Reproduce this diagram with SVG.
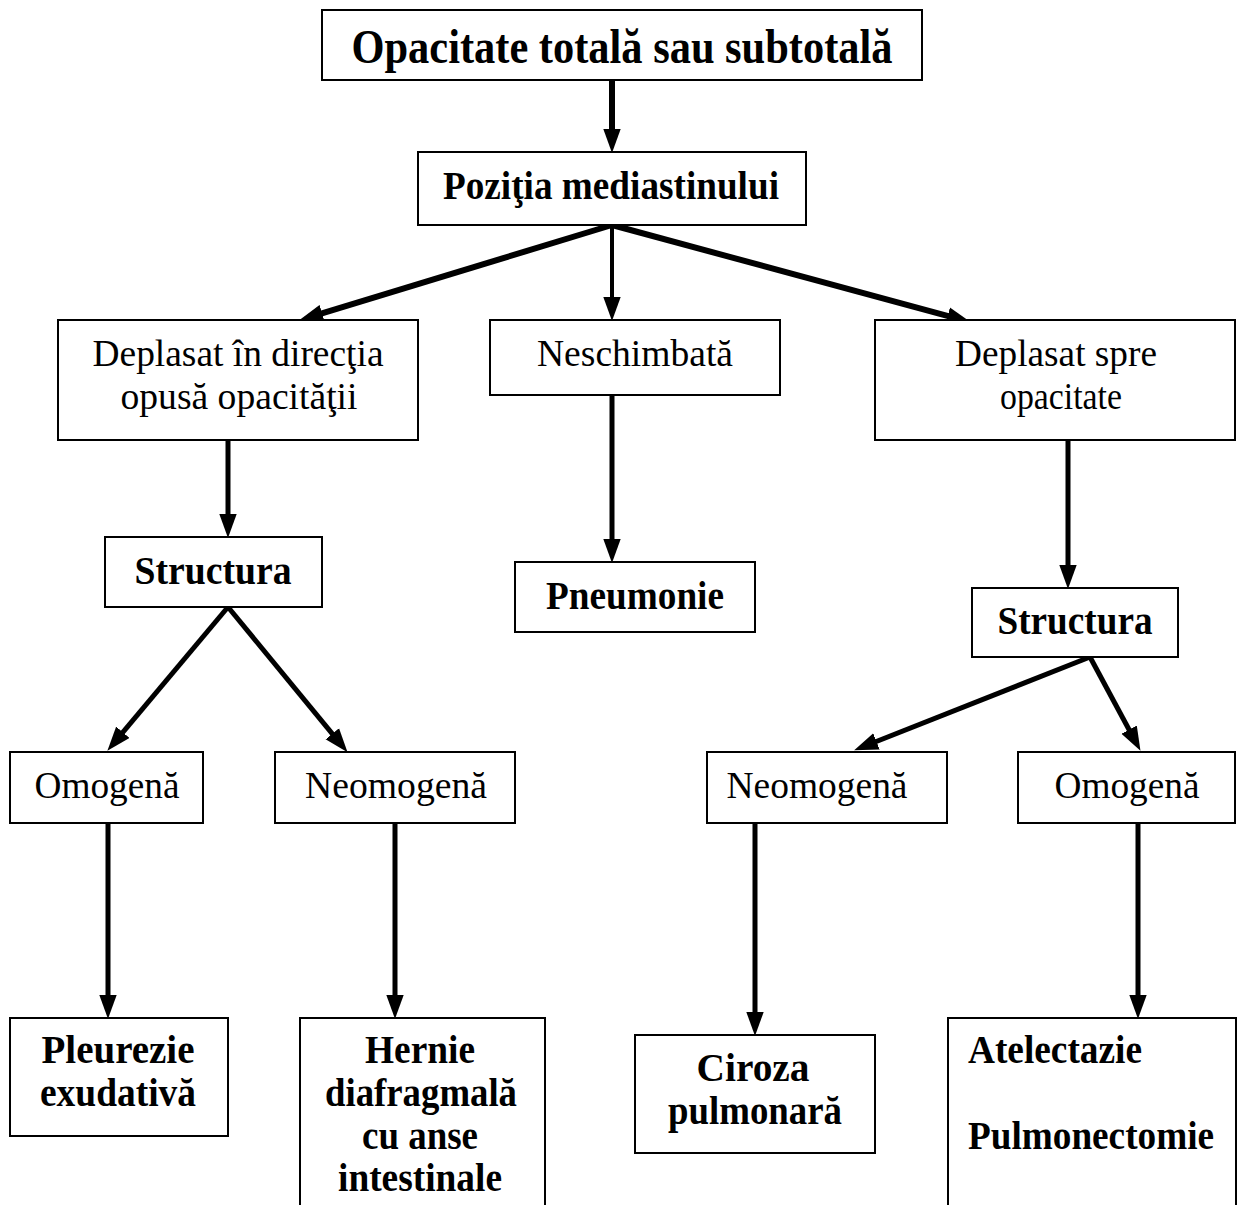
<svg xmlns="http://www.w3.org/2000/svg" width="1238" height="1205" viewBox="0 0 1238 1205">
<style>
.box{fill:#fff;stroke:#000;stroke-width:2}
.t{font-family:"Liberation Serif","Times New Roman",serif;font-size:38px;fill:#000;text-anchor:middle}
.b{font-weight:bold;font-size:41px}
.c{stroke:#000;stroke-width:5;fill:none;marker-end:url(#ah)}
</style>
<defs>
<marker id="ah" markerUnits="userSpaceOnUse" markerWidth="24" markerHeight="18" refX="12" refY="8" orient="auto" viewBox="0 0 22 16">
<path d="M0,0 L22,8 L0,16 z" fill="#000"/>
</marker>
</defs>
<rect width="1238" height="1205" fill="#fff"/>
<g id="connectors">
<line class="c" x1="612" y1="80" x2="612" y2="142" style="stroke-width:6"/>
<line class="c" x1="612" y1="225" x2="309.6" y2="317.1" style="stroke-width:6"/>
<line class="c" x1="612" y1="225" x2="612" y2="310" style="stroke-width:4"/>
<line class="c" x1="612" y1="225" x2="960.3" y2="319.4" style="stroke-width:6"/>
<line class="c" x1="228" y1="440" x2="228" y2="527"/>
<line class="c" x1="612" y1="395" x2="612" y2="552"/>
<line class="c" x1="1068" y1="440" x2="1068" y2="578"/>
<line class="c" x1="228" y1="607" x2="114.4" y2="742.3"/>
<line class="c" x1="228" y1="607" x2="340.6" y2="743.9"/>
<line class="c" x1="1090" y1="657" x2="864.3" y2="746.3"/>
<line class="c" x1="1090" y1="657" x2="1135.3" y2="741.2"/>
<line class="c" x1="108" y1="823" x2="108" y2="1008"/>
<line class="c" x1="395" y1="823" x2="395" y2="1008"/>
<line class="c" x1="755" y1="823" x2="755" y2="1025"/>
<line class="c" x1="1138" y1="823" x2="1138" y2="1008"/>
</g>
<g id="n-top">
<rect class="box" x="322" y="10" width="600" height="70"/>
<text class="t b" x="622" y="63" style="font-size:48px" textLength="541" lengthAdjust="spacingAndGlyphs">Opacitate totală sau subtotală</text>
</g>
<g id="n-pozitia">
<rect class="box" x="418" y="152" width="388" height="73"/>
<text class="t b" x="611" y="199" textLength="336" lengthAdjust="spacingAndGlyphs">Poziţia mediastinului</text>
</g>
<g id="n-deplasat-opus">
<rect class="box" x="58" y="320" width="360" height="120"/>
<text class="t" x="238" y="366" textLength="291" lengthAdjust="spacingAndGlyphs">Deplasat în direcţia</text>
<text class="t" x="239" y="409" textLength="237" lengthAdjust="spacingAndGlyphs">opusă opacităţii</text>
</g>
<g id="n-neschimbata">
<rect class="box" x="490" y="320" width="290" height="75"/>
<text class="t" x="635" y="366" textLength="196" lengthAdjust="spacingAndGlyphs">Neschimbată</text>
</g>
<g id="n-deplasat-spre">
<rect class="box" x="875" y="320" width="360" height="120"/>
<text class="t" x="1056" y="366" textLength="202" lengthAdjust="spacingAndGlyphs">Deplasat spre</text>
<text class="t" x="1061" y="409" textLength="122" lengthAdjust="spacingAndGlyphs">opacitate</text>
</g>
<g id="n-structura-l">
<rect class="box" x="105" y="537" width="217" height="70"/>
<text class="t b" x="213" y="584" textLength="157" lengthAdjust="spacingAndGlyphs">Structura</text>
</g>
<g id="n-pneumonie">
<rect class="box" x="515" y="562" width="240" height="70"/>
<text class="t b" x="635" y="609" textLength="178" lengthAdjust="spacingAndGlyphs">Pneumonie</text>
</g>
<g id="n-structura-r">
<rect class="box" x="972" y="588" width="206" height="69"/>
<text class="t b" x="1075" y="634" textLength="155" lengthAdjust="spacingAndGlyphs">Structura</text>
</g>
<g id="n-omogena-l">
<rect class="box" x="10" y="752" width="193" height="71"/>
<text class="t" x="107" y="798" textLength="145" lengthAdjust="spacingAndGlyphs">Omogenă</text>
</g>
<g id="n-neomogena-l">
<rect class="box" x="275" y="752" width="240" height="71"/>
<text class="t" x="396" y="798" textLength="182" lengthAdjust="spacingAndGlyphs">Neomogenă</text>
</g>
<g id="n-neomogena-r">
<rect class="box" x="707" y="752" width="240" height="71"/>
<text class="t" x="817" y="798" textLength="181" lengthAdjust="spacingAndGlyphs">Neomogenă</text>
</g>
<g id="n-omogena-r">
<rect class="box" x="1018" y="752" width="217" height="71"/>
<text class="t" x="1127" y="798" textLength="145" lengthAdjust="spacingAndGlyphs">Omogenă</text>
</g>
<g id="n-pleurezie">
<rect class="box" x="10" y="1018" width="218" height="118"/>
<text class="t b" x="118" y="1063" textLength="153" lengthAdjust="spacingAndGlyphs">Pleurezie</text>
<text class="t b" x="118" y="1106" textLength="156" lengthAdjust="spacingAndGlyphs">exudativă</text>
</g>
<g id="n-hernie">
<rect class="box" x="300" y="1018" width="245" height="195"/>
<text class="t b" x="420" y="1063" textLength="110" lengthAdjust="spacingAndGlyphs">Hernie</text>
<text class="t b" x="421" y="1106" textLength="192" lengthAdjust="spacingAndGlyphs">diafragmală</text>
<text class="t b" x="420" y="1149" textLength="116" lengthAdjust="spacingAndGlyphs">cu anse</text>
<text class="t b" x="420" y="1191" textLength="164" lengthAdjust="spacingAndGlyphs">intestinale</text>
</g>
<g id="n-ciroza">
<rect class="box" x="635" y="1035" width="240" height="118"/>
<text class="t b" x="753" y="1081" textLength="113" lengthAdjust="spacingAndGlyphs">Ciroza</text>
<text class="t b" x="755" y="1124" textLength="174" lengthAdjust="spacingAndGlyphs">pulmonară</text>
</g>
<g id="n-atelectazie">
<rect class="box" x="948" y="1018" width="288" height="195"/>
<text class="t b" x="968" y="1063" style="text-anchor:start" textLength="174" lengthAdjust="spacingAndGlyphs">Atelectazie</text>
<text class="t b" x="968" y="1149" style="text-anchor:start" textLength="246" lengthAdjust="spacingAndGlyphs">Pulmonectomie</text>
</g>
</svg>
